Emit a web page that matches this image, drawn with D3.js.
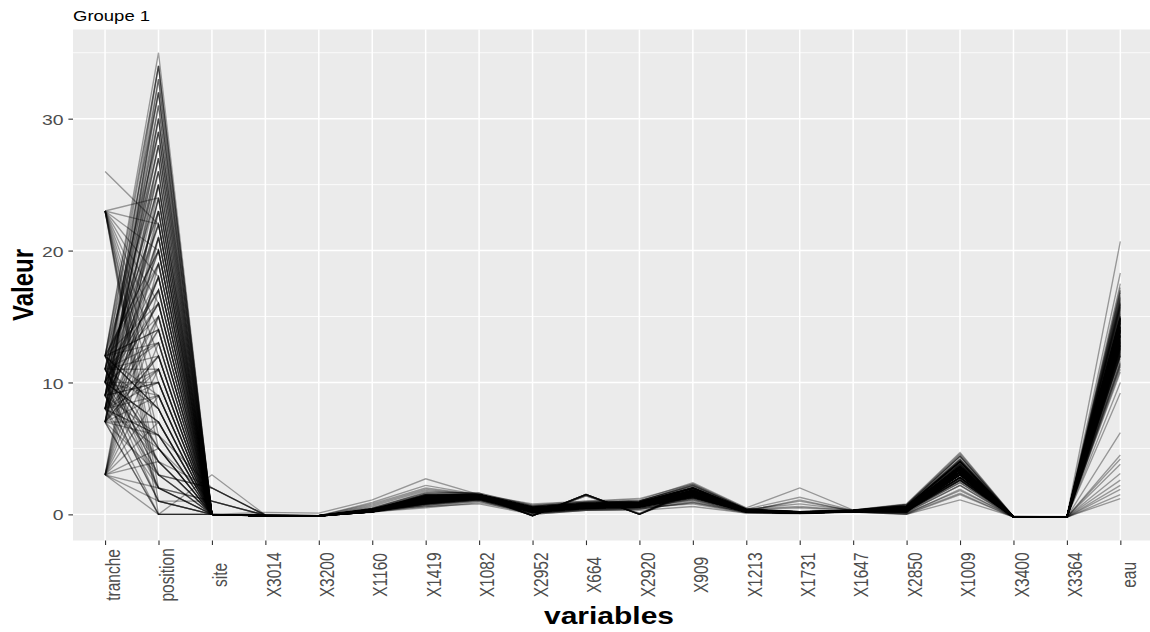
<!DOCTYPE html>
<html><head><meta charset="utf-8">
<script src="https://cdn.jsdelivr.net/npm/d3@7"></script>
<style>body{margin:0;background:#fff} svg{display:block}</style>
</head><body><svg id="chart" width="1150" height="632"></svg>
<script>
const categories = ["tranche","position","site","X3014","X3200","X1160","X1419","X1082","X2952","X664","X2920","X909","X1213","X1731","X1647","X2850","X1009","X3400","X3364","eau"];

const tranche = [
23,23,23,23,23,23,23,23,23,23,
23,23,23,23,23,3,3,3,3,3,
3,3,3,3,3,3,3,3,3,3,
26,12,11,10,9,8,7,12,11,10,
9,8,7,11,10,9,8,12,7,10,
9,8,12,11,7,9,8,12,11,10,
7,8,12,11,10,9,7,12,10,11,
9,8,7,11,9,10,12,8,7,10,
12,9,11,8,7,9,11,12,10,8,
7,12,11,10,9,8,7,10,9,8,
8,10,12,7,9,11,8,10,12,7,
9,11,8,10,12,7,9,11,8,10,
12,7,9,11,8,10,12,7,9,11,
8,10,12,7,9,11,10,8,12,9,
11,7,10,8,12,9,11,7,10,8];

const position = [
0,1,2,3,5,6,8,10,12,14,
16,18,20,22,24,0,1,2,4,5,
7,9,11,13,15,17,19,21,23,25,
22,35,34,33,32,31,30,29,28,27,
26,25,24,23,22,21,20,19,18,17,
16,15,14,13,12,11,10,9,8,7,
6,5,4,3,2,1,0,34,32,30,
28,26,24,22,20,18,16,14,12,10,
8,6,4,2,0,1,3,5,7,9,
11,13,15,17,19,21,23,25,27,29,
0,1,2,3,4,5,6,7,8,9,
10,11,12,13,14,15,16,17,18,19,
20,21,22,23,24,25,26,27,28,29,
30,31,32,33,34,2,4,6,8,10,
12,14,16,18,20,3,5,7,9,11];

const site = [
0,0,0,0,0,0,0,0,0,0,
0,0,0,0,0,3,0,0,0,0,
0,0,0,0,0,0,0,0,0,0,
0,0,0,0,0,0,0,0,0,0,
0,0,0,0,0,0,0,0,0,0,
0,0,0,0,0,0,0,0,0,0,
2,1,0,2,1,0,0,0,0,0,
0,0,0,0,0,0,0,0,0,0,
0,0,0,0,0,1,2,0,0,0,
0,0,0,0,0,0,0,0,0,0,
0,0,1,0,2,0,0,0,0,0,
0,0,0,0,0,0,0,0,0,0,
0,0,0,0,0,0,0,0,0,0,
0,0,0,0,0,0,0,0,0,0,
0,0,0,0,0,0,0,0,0,0];

const x3014 = [
-0.1,-0.12,-0.08,-0.1,-0.11,-0.09,-0.1,-0.13,-0.1,-0.08,
-0.1,-0.11,-0.12,-0.09,-0.1,-0.05,-0.1,-0.12,-0.1,-0.09,
-0.11,-0.1,-0.08,-0.1,-0.12,-0.1,-0.09,-0.11,-0.1,-0.1,
0.15,-0.1,-0.12,-0.09,-0.1,-0.11,-0.1,-0.08,-0.12,-0.1,
-0.09,-0.11,-0.1,-0.12,-0.08,-0.1,-0.13,-0.1,-0.09,-0.11,
-0.1,-0.12,-0.09,-0.1,-0.11,-0.1,-0.08,-0.1,-0.12,-0.1,
-0.05,-0.07,-0.1,-0.06,-0.08,-0.11,-0.1,-0.09,-0.12,-0.1,
-0.1,-0.11,-0.09,-0.1,-0.12,-0.08,-0.1,-0.11,-0.1,-0.13,
-0.09,-0.1,-0.12,-0.1,-0.11,-0.07,-0.06,-0.1,-0.12,-0.09,
-0.1,-0.11,-0.1,-0.08,-0.12,-0.1,-0.09,-0.11,-0.1,-0.12,
-0.11,-0.1,-0.07,-0.12,-0.06,-0.1,-0.11,-0.09,-0.1,-0.12,
-0.1,-0.09,-0.11,-0.1,-0.12,-0.1,-0.08,-0.11,-0.1,-0.09,
-0.12,-0.1,-0.11,-0.09,-0.1,-0.12,-0.1,-0.11,-0.08,-0.1,
-0.1,-0.12,-0.09,-0.11,-0.1,-0.1,-0.13,-0.1,-0.09,-0.11,
-0.1,-0.11,-0.12,-0.1,-0.09,-0.1,-0.11,-0.12,-0.1,-0.08];

const x3200 = [
-0.12,-0.1,-0.11,-0.13,-0.1,-0.12,-0.11,-0.1,-0.13,-0.12,
-0.11,-0.13,-0.1,-0.12,-0.11,-0.08,-0.12,-0.1,-0.13,-0.11,
-0.1,-0.12,-0.11,-0.13,-0.1,-0.12,-0.11,-0.1,-0.12,-0.13,
0.1,-0.12,-0.1,-0.11,-0.13,-0.12,-0.1,-0.11,-0.13,-0.12,
-0.11,-0.1,-0.12,-0.13,-0.11,-0.12,-0.1,-0.13,-0.11,-0.12,
-0.12,-0.1,-0.11,-0.13,-0.12,-0.11,-0.1,-0.12,-0.13,-0.11,
-0.1,-0.11,-0.12,-0.1,-0.12,-0.13,-0.11,-0.12,-0.1,-0.11,
-0.13,-0.12,-0.11,-0.1,-0.12,-0.11,-0.13,-0.12,-0.1,-0.11,
-0.12,-0.11,-0.13,-0.12,-0.1,-0.11,-0.1,-0.12,-0.13,-0.11,
-0.11,-0.12,-0.1,-0.13,-0.11,-0.12,-0.1,-0.12,-0.11,-0.13,
-0.12,-0.11,-0.1,-0.12,-0.11,-0.13,-0.12,-0.1,-0.11,-0.12,
-0.13,-0.11,-0.12,-0.1,-0.12,-0.11,-0.13,-0.12,-0.11,-0.1,
-0.11,-0.12,-0.13,-0.11,-0.12,-0.1,-0.11,-0.12,-0.13,-0.11,
-0.12,-0.1,-0.11,-0.12,-0.13,-0.11,-0.12,-0.1,-0.12,-0.11,
-0.11,-0.13,-0.12,-0.11,-0.1,-0.12,-0.11,-0.13,-0.12,-0.1];

const x1160 = [
0.2,0.3,0.25,0.35,0.2,0.4,0.3,0.15,0.25,0.3,
0.35,0.2,0.3,0.45,0.25,0.2,0.3,0.35,0.4,0.25,
0.3,0.2,0.25,0.3,0.5,0.35,0.2,0.3,0.25,0.4,
1.1,0.3,0.25,0.35,0.2,0.3,0.4,0.9,0.25,0.3,
0.2,0.35,0.3,0.25,0.4,0.3,0.2,0.35,0.3,0.7,
0.3,0.25,0.35,0.2,0.3,0.45,0.25,0.3,0.35,0.2,
0.3,0.4,0.25,0.3,0.2,0.35,0.3,0.25,0.8,0.3,
0.25,0.3,0.35,0.2,0.3,0.4,0.25,0.3,0.2,0.35,
0.3,0.25,0.2,0.35,0.3,0.45,0.3,0.25,0.35,0.3,
0.2,0.3,0.35,0.25,0.3,0.6,0.2,0.3,0.25,0.35,
0.25,0.3,0.2,0.35,0.3,0.25,0.4,0.3,0.2,0.3,
0.35,0.25,0.3,0.2,0.3,0.4,0.25,0.3,0.35,0.25,
0.3,0.2,0.35,0.3,0.25,0.3,0.4,0.2,0.3,0.35,
0.25,0.3,0.2,0.3,0.35,0.25,0.3,0.4,0.2,0.3,
0.3,0.35,0.25,0.2,0.3,0.4,0.3,0.25,0.35,0.3];

const x1419 = [
1.0,1.2,0.8,1.4,0.9,1.1,1.3,0.7,1.0,1.2,
1.5,0.9,1.1,1.3,0.8,1.0,1.2,1.4,0.6,1.1,
1.3,0.9,1.0,1.2,1.6,1.1,0.8,1.4,1.0,1.2,
2.7,1.1,0.9,1.3,1.0,1.2,1.5,2.2,0.8,1.1,
1.0,1.3,1.2,0.9,1.4,1.1,0.5,1.3,1.0,1.9,
1.2,0.9,1.4,1.0,1.1,1.6,0.8,1.2,1.3,1.0,
1.1,1.5,0.9,1.2,1.0,1.3,1.1,0.8,2.0,1.2,
0.9,1.2,1.4,1.0,1.1,1.5,0.8,1.3,1.0,1.2,
1.1,1.0,0.6,1.3,1.2,1.7,1.1,0.9,1.4,1.0,
0.8,1.2,1.3,1.0,1.1,1.8,0.7,1.2,0.9,1.3,
1.1,1.3,0.9,1.2,1.0,1.4,1.2,0.8,1.1,1.3,
1.0,1.2,1.5,0.9,1.1,1.3,1.0,1.2,1.4,0.7,
1.2,1.0,1.3,1.1,0.9,1.4,1.2,1.0,1.1,1.3,
0.9,1.1,1.2,1.4,1.0,1.3,1.1,0.8,1.2,1.0,
1.3,1.1,0.9,1.2,1.4,1.0,1.2,1.1,0.9,1.5];

const x1082 = [
1.3,1.4,1.2,1.5,1.3,1.4,1.5,1.1,1.3,1.4,
1.5,1.3,1.4,1.4,1.2,1.3,1.4,1.5,1.0,1.3,
1.4,1.2,1.3,1.4,1.6,1.3,1.2,1.5,1.3,1.4,
1.5,1.3,1.2,1.4,1.3,1.4,1.5,1.5,1.1,1.3,
1.3,1.4,1.4,1.2,1.5,1.3,0.9,1.4,1.3,1.5,
1.4,1.2,1.5,1.3,1.3,1.6,1.1,1.4,1.4,1.3,
1.3,1.5,1.2,1.4,1.3,1.4,1.3,1.4,1.5,1.4,
1.2,1.4,1.5,1.3,1.3,1.5,1.1,1.4,1.3,1.4,
1.3,1.3,0.8,1.4,1.4,1.6,1.3,1.2,1.5,1.3,
1.1,1.4,1.4,1.3,1.3,1.5,1.0,1.4,1.2,1.4,
1.3,1.4,1.2,1.4,1.3,1.5,1.4,1.2,1.3,1.4,
1.3,1.4,1.5,1.2,1.3,1.4,1.3,1.4,1.5,1.1,
1.4,1.3,1.4,1.3,1.2,1.5,1.4,1.3,1.3,1.4,
1.2,1.3,1.4,1.5,1.3,1.4,1.3,1.2,1.4,1.3,
1.4,1.3,1.2,1.4,1.5,1.3,1.4,1.3,1.2,1.5];

const x2952 = [
0.3,0.4,0.2,0.5,0.3,0.4,0.6,0.2,0.3,0.4,
0.5,0.3,-0.1,0.4,0.2,0.3,0.4,0.5,0.1,0.3,
0.4,0.2,0.3,0.4,0.7,0.3,0.2,0.5,0.3,0.4,
0.8,0.3,0.2,0.4,0.3,0.4,0.5,0.6,0.1,0.3,
0.3,-0.1,0.4,0.2,0.5,0.3,0.1,0.4,0.3,0.6,
0.4,0.2,0.5,0.3,0.3,-0.1,0.2,0.4,0.4,0.3,
0.3,0.5,0.2,0.4,0.3,0.4,0.3,-0.1,0.7,0.4,
0.2,0.4,0.5,0.3,0.3,0.5,0.1,0.4,-0.1,0.4,
0.3,0.3,0.0,0.4,0.4,0.6,0.3,0.2,0.5,0.3,
0.1,0.4,-0.1,0.3,0.3,0.6,0.0,0.4,0.2,0.4,
0.3,0.4,0.2,0.3,0.3,-0.1,0.4,0.2,0.3,0.4,
0.3,0.4,0.5,0.2,0.3,0.4,0.3,0.3,0.5,0.1,
0.4,0.3,0.4,0.3,0.2,0.5,0.4,-0.1,0.3,0.4,
0.2,0.3,0.4,0.5,0.3,0.4,0.3,0.2,0.4,0.3,
0.4,-0.1,0.2,0.3,0.5,0.3,0.4,0.3,0.2,0.5];

const x664 = [
0.6,0.7,0.5,0.8,0.6,0.7,0.9,0.4,0.6,0.7,
0.8,0.6,1.5,0.7,0.5,0.6,0.7,0.8,0.3,0.6,
0.7,0.5,0.6,0.7,1.0,0.6,0.5,0.8,0.6,0.7,
1.0,0.6,0.5,0.7,0.6,0.7,0.8,0.9,0.4,0.6,
0.6,1.5,0.7,0.5,0.8,0.6,0.4,0.7,0.6,0.9,
0.7,0.5,0.8,0.6,0.6,1.5,0.5,0.7,0.7,0.6,
0.6,0.8,0.5,0.7,0.6,0.7,0.6,1.4,0.9,0.7,
0.5,0.7,0.8,0.6,0.6,0.8,0.4,0.7,1.5,0.7,
0.6,0.6,0.3,0.7,0.7,0.9,0.6,0.5,0.8,0.6,
0.4,0.7,1.5,0.6,0.6,0.9,0.3,0.7,0.5,0.7,
0.6,0.7,0.5,0.6,0.6,1.5,0.7,0.5,0.6,0.7,
0.6,0.7,0.8,0.5,0.6,0.7,0.6,0.6,0.8,0.4,
0.7,0.6,0.7,0.6,0.5,0.8,0.7,1.4,0.6,0.7,
0.5,0.6,0.7,0.8,0.6,0.7,0.6,0.5,0.7,0.6,
0.7,1.5,0.5,0.6,0.8,0.6,0.7,0.6,0.5,0.8];

const x2920 = [
0.7,0.8,0.6,0.9,0.7,0.8,1.0,0.5,0.7,0.8,
0.9,0.7,0.0,0.8,0.6,0.7,0.8,0.9,0.4,0.7,
0.8,0.6,0.7,0.8,1.2,0.7,0.6,0.9,0.7,0.8,
1.1,0.7,0.6,0.8,0.7,0.8,0.9,1.0,0.4,0.7,
0.7,0.0,0.8,0.6,0.9,0.7,0.5,0.8,0.7,1.0,
0.8,0.6,0.9,0.7,0.7,0.0,0.6,0.8,0.8,0.7,
0.7,0.9,0.6,0.8,0.7,0.8,0.7,0.1,1.0,0.8,
0.6,0.8,0.9,0.7,0.7,0.9,0.5,0.8,0.0,0.8,
0.7,0.7,0.3,0.8,0.8,1.0,0.7,0.6,0.9,0.7,
0.5,0.8,0.0,0.7,0.7,1.0,0.4,0.8,0.6,0.8,
0.7,0.8,0.6,0.7,0.7,0.0,0.8,0.6,0.7,0.8,
0.7,0.8,0.9,0.6,0.7,0.8,0.7,0.7,0.9,0.5,
0.8,0.7,0.8,0.7,0.6,0.9,0.8,0.05,0.7,0.8,
0.6,0.7,0.8,0.9,0.7,0.8,0.7,0.6,0.8,0.7,
0.8,0.0,0.6,0.7,0.9,0.7,0.8,0.7,0.6,0.9];

const x909 = [
1.6,1.8,1.4,2.0,1.5,1.7,2.1,1.2,1.6,1.8,
2.0,1.5,1.7,1.8,1.3,1.6,1.8,2.0,0.9,1.5,
1.8,1.4,1.5,1.8,2.3,1.6,1.3,1.9,1.5,1.7,
2.4,1.6,1.4,1.8,1.5,1.7,1.9,2.2,1.0,1.5,
1.5,1.8,1.8,1.4,2.0,1.6,0.8,1.8,1.5,2.2,
1.7,1.3,2.0,1.5,1.6,1.9,1.2,1.7,1.8,1.5,
1.6,2.0,1.3,1.8,1.5,1.8,1.6,1.7,2.3,1.7,
1.4,1.7,2.0,1.5,1.6,2.0,1.1,1.8,1.9,1.7,
1.5,1.6,0.6,1.8,1.7,2.2,1.5,1.3,2.0,1.5,
1.2,1.7,1.8,1.5,1.6,2.1,0.9,1.7,1.3,1.8,
1.6,1.8,1.4,1.7,1.6,1.5,1.8,1.3,1.6,1.8,
1.5,1.7,2.0,1.4,1.6,1.8,1.5,1.7,1.9,1.1,
1.7,1.5,1.8,1.6,1.4,1.9,1.7,1.6,1.6,1.8,
1.4,1.6,1.7,2.0,1.5,1.8,1.6,1.3,1.7,1.5,
1.8,1.7,1.4,1.6,1.9,1.5,1.7,1.6,1.4,2.0];

const x1213 = [
0.3,0.3,0.2,0.35,0.25,0.3,0.4,0.2,0.25,0.3,
0.35,0.25,0.3,0.3,0.2,0.25,0.3,0.35,0.15,0.25,
0.3,0.2,0.25,0.3,0.45,0.25,0.2,0.35,0.25,0.3,
0.5,0.25,0.2,0.3,0.25,0.3,0.35,0.4,0.15,0.25,
0.25,0.3,0.3,0.2,0.35,0.25,0.1,0.3,0.25,0.4,
0.3,0.2,0.35,0.25,0.25,0.35,0.2,0.3,0.3,0.25,
0.25,0.35,0.2,0.3,0.25,0.3,0.25,0.3,0.4,0.3,
0.2,0.3,0.35,0.25,0.25,0.35,0.15,0.3,0.3,0.3,
0.25,0.25,0.1,0.3,0.3,0.4,0.25,0.2,0.35,0.25,
0.2,0.3,0.3,0.25,0.25,0.4,0.15,0.3,0.2,0.3,
0.25,0.3,0.2,0.3,0.25,0.3,0.3,0.2,0.25,0.3,
0.25,0.3,0.35,0.2,0.25,0.3,0.25,0.3,0.35,0.15,
0.3,0.25,0.3,0.25,0.2,0.35,0.3,0.25,0.25,0.3,
0.2,0.25,0.3,0.35,0.25,0.3,0.25,0.2,0.3,0.25,
0.3,0.25,0.2,0.25,0.35,0.25,0.3,0.25,0.2,0.35];

const x1731 = [
0.15,0.2,0.1,0.15,0.12,0.18,0.2,0.1,0.15,0.15,
0.2,0.12,0.15,0.15,0.1,0.15,0.12,0.18,0.1,1.1,
0.15,0.1,0.12,0.15,0.2,0.12,0.1,0.15,0.12,0.15,
2.0,0.12,0.1,0.15,0.12,0.15,0.18,1.3,0.08,0.12,
0.12,0.15,0.15,0.1,0.5,0.12,0.08,0.15,0.12,0.2,
0.15,0.1,0.18,0.12,0.12,0.15,0.1,1.0,0.15,0.12,
0.12,0.18,0.1,0.15,0.12,0.15,0.12,0.15,0.8,0.15,
0.1,0.15,0.18,0.12,0.12,0.18,0.08,0.15,0.15,0.15,
0.12,0.12,0.05,0.15,0.15,0.2,0.12,0.1,0.18,0.12,
0.1,0.15,0.15,0.12,0.12,0.6,0.08,0.15,0.1,0.15,
0.12,0.15,0.1,0.15,0.12,0.15,0.18,0.1,0.12,0.15,
0.12,0.15,0.18,0.1,0.12,0.15,0.12,0.15,0.18,0.08,
0.15,0.12,0.15,0.12,0.1,0.18,0.15,0.12,0.12,0.15,
0.1,0.12,0.15,0.18,0.12,0.15,0.12,0.1,0.15,0.12,
0.15,0.12,0.1,0.12,0.18,0.12,0.15,0.12,0.1,0.18];

const x1647 = [
0.25,0.28,0.22,0.3,0.24,0.26,0.3,0.2,0.25,0.27,
0.3,0.24,0.26,0.27,0.22,0.25,0.27,0.29,0.19,0.24,
0.27,0.22,0.24,0.27,0.32,0.25,0.21,0.28,0.24,0.26,
0.33,0.25,0.22,0.27,0.24,0.26,0.28,0.31,0.2,0.24,
0.24,0.27,0.27,0.22,0.29,0.25,0.18,0.27,0.24,0.31,
0.26,0.21,0.29,0.24,0.25,0.28,0.2,0.26,0.27,0.24,
0.25,0.29,0.21,0.27,0.24,0.27,0.25,0.26,0.32,0.26,
0.22,0.26,0.29,0.24,0.25,0.29,0.2,0.27,0.28,0.26,
0.24,0.25,0.17,0.27,0.26,0.31,0.24,0.22,0.29,0.24,
0.21,0.26,0.27,0.24,0.25,0.3,0.19,0.26,0.22,0.27,
0.25,0.27,0.22,0.26,0.25,0.24,0.27,0.21,0.25,0.27,
0.24,0.26,0.29,0.22,0.25,0.27,0.24,0.26,0.28,0.2,
0.26,0.24,0.27,0.25,0.22,0.28,0.26,0.25,0.25,0.27,
0.22,0.25,0.26,0.29,0.24,0.27,0.25,0.21,0.26,0.24,
0.27,0.25,0.22,0.25,0.28,0.24,0.26,0.25,0.22,0.29];

const x2850 = [
0.4,0.5,0.3,0.6,0.35,0.45,0.65,0.25,0.4,0.5,
0.6,0.35,0.2,0.5,0.3,0.4,0.5,0.6,0.1,0.35,
0.5,0.3,0.35,0.5,0.75,0.4,0.25,0.55,0.35,0.45,
0.8,0.4,0.3,0.5,0.35,0.45,0.55,0.7,0.05,0.35,
0.35,0.15,0.5,0.3,0.6,0.4,0.0,0.5,0.35,0.7,
0.45,0.25,0.6,0.35,0.4,0.2,0.25,0.45,0.5,0.35,
0.4,0.6,0.25,0.5,0.35,0.5,0.4,0.2,0.75,0.45,
0.3,0.45,0.6,0.35,0.4,0.6,0.15,0.5,0.15,0.45,
0.35,0.4,0.0,0.5,0.45,0.7,0.35,0.3,0.6,0.35,
0.2,0.45,0.1,0.35,0.4,0.65,0.05,0.45,0.25,0.5,
0.4,0.5,0.3,0.45,0.4,0.2,0.5,0.3,0.4,0.5,
0.35,0.45,0.6,0.3,0.4,0.5,0.35,0.45,0.55,0.15,
0.45,0.35,0.5,0.4,0.3,0.55,0.45,0.2,0.4,0.5,
0.3,0.4,0.45,0.6,0.35,0.5,0.4,0.25,0.45,0.35,
0.5,0.15,0.3,0.4,0.55,0.35,0.45,0.4,0.3,0.6];

const x1009 = [
3.2,3.6,2.8,4.0,3.0,3.4,4.2,2.5,3.2,3.6,
4.0,3.0,3.5,3.7,2.7,3.2,3.6,4.1,1.8,3.0,
3.6,2.8,3.1,3.6,4.6,3.2,2.6,3.8,3.0,3.4,
4.7,3.2,2.8,3.7,3.0,3.4,3.9,4.4,1.9,3.1,
3.0,3.6,3.6,2.8,4.0,3.3,1.5,3.7,3.0,4.4,
3.4,2.6,4.0,3.0,3.2,3.8,2.4,3.5,3.6,3.0,
3.2,4.0,2.6,3.6,3.0,3.6,3.2,3.4,4.5,3.4,
2.8,3.4,4.0,3.0,3.2,4.1,2.2,3.6,3.8,3.4,
3.0,3.2,1.1,3.6,3.4,4.4,3.0,2.7,4.0,3.0,
2.4,3.4,3.6,3.0,3.2,4.2,1.6,3.4,2.6,3.6,
3.2,3.6,2.8,3.4,3.2,3.5,3.7,2.6,3.2,3.6,
3.0,3.4,4.0,2.8,3.2,3.6,3.0,3.4,3.8,2.2,
3.4,3.0,3.6,3.2,2.8,3.9,3.4,3.3,3.2,3.6,
2.8,3.2,3.4,4.1,3.0,3.6,3.2,2.6,3.4,3.0,
3.6,3.5,2.8,3.2,3.8,3.0,3.4,3.2,2.8,4.0];

const x3400 = [
-0.18,-0.2,-0.17,-0.2,-0.19,-0.18,-0.21,-0.16,-0.18,-0.2,
-0.19,-0.17,-0.2,-0.18,-0.21,-0.19,-0.18,-0.2,-0.17,-0.19,
-0.2,-0.18,-0.19,-0.21,-0.17,-0.2,-0.18,-0.19,-0.2,-0.18,
-0.15,-0.19,-0.2,-0.18,-0.21,-0.17,-0.19,-0.18,-0.2,-0.19,
-0.18,-0.2,-0.19,-0.17,-0.2,-0.18,-0.21,-0.19,-0.18,-0.2,
-0.19,-0.18,-0.2,-0.21,-0.17,-0.19,-0.2,-0.18,-0.19,-0.2,
-0.17,-0.19,-0.2,-0.18,-0.19,-0.21,-0.18,-0.2,-0.17,-0.19,
-0.2,-0.18,-0.19,-0.2,-0.18,-0.17,-0.21,-0.19,-0.2,-0.18,
-0.19,-0.2,-0.18,-0.19,-0.21,-0.18,-0.2,-0.19,-0.17,-0.2,
-0.18,-0.19,-0.2,-0.18,-0.19,-0.2,-0.21,-0.18,-0.19,-0.2,
-0.19,-0.18,-0.2,-0.19,-0.17,-0.2,-0.18,-0.19,-0.21,-0.18,
-0.2,-0.19,-0.18,-0.2,-0.19,-0.17,-0.2,-0.18,-0.19,-0.2,
-0.18,-0.2,-0.19,-0.18,-0.21,-0.19,-0.18,-0.2,-0.19,-0.18,
-0.19,-0.18,-0.2,-0.19,-0.18,-0.2,-0.19,-0.17,-0.2,-0.19,
-0.2,-0.19,-0.18,-0.2,-0.19,-0.18,-0.21,-0.19,-0.18,-0.2];

const x3364 = [
-0.2,-0.19,-0.21,-0.18,-0.2,-0.22,-0.19,-0.2,-0.21,-0.18,
-0.2,-0.21,-0.19,-0.2,-0.18,-0.2,-0.22,-0.19,-0.2,-0.21,
-0.19,-0.2,-0.21,-0.18,-0.2,-0.19,-0.22,-0.2,-0.19,-0.21,
-0.17,-0.2,-0.19,-0.21,-0.2,-0.18,-0.2,-0.22,-0.19,-0.2,
-0.21,-0.19,-0.2,-0.18,-0.22,-0.2,-0.19,-0.21,-0.2,-0.18,
-0.2,-0.21,-0.19,-0.2,-0.22,-0.18,-0.2,-0.19,-0.21,-0.2,
-0.19,-0.2,-0.18,-0.21,-0.2,-0.19,-0.22,-0.2,-0.18,-0.21,
-0.2,-0.19,-0.21,-0.2,-0.18,-0.2,-0.22,-0.19,-0.2,-0.21,
-0.19,-0.2,-0.21,-0.18,-0.2,-0.19,-0.2,-0.22,-0.21,-0.19,
-0.2,-0.21,-0.19,-0.2,-0.18,-0.2,-0.21,-0.19,-0.2,-0.22,
-0.2,-0.21,-0.19,-0.2,-0.22,-0.19,-0.2,-0.21,-0.18,-0.2,
-0.19,-0.2,-0.21,-0.19,-0.2,-0.18,-0.21,-0.2,-0.19,-0.22,
-0.21,-0.19,-0.2,-0.22,-0.19,-0.2,-0.21,-0.18,-0.2,-0.19,
-0.2,-0.22,-0.19,-0.2,-0.21,-0.19,-0.2,-0.18,-0.21,-0.2,
-0.19,-0.2,-0.22,-0.19,-0.2,-0.21,-0.19,-0.2,-0.18,-0.21];

const eau = [
13.5,14.8,12.2,15.6,13.0,1.5,16.2,11.8,13.8,14.5,
15.2,12.8,14.0,3.1,12.5,13.2,14.6,15.8,11.0,12.9,
14.4,12.0,13.1,14.9,17.5,13.6,2.2,15.0,12.7,14.1,
20.7,13.3,12.1,4.5,12.9,14.2,15.3,16.8,9.2,13.0,
12.6,14.7,15.0,12.3,1.9,13.5,11.4,14.9,12.8,18.3,
14.0,6.2,15.7,12.6,13.4,16.0,11.6,14.3,14.8,2.6,
13.2,15.9,12.0,14.6,4.2,14.9,13.3,13.8,17.0,14.0,
12.4,14.1,16.4,3.8,13.1,16.6,11.2,14.5,15.4,13.9,
12.9,13.6,10.0,14.8,14.2,17.2,1.2,12.3,16.1,12.8,
11.5,14.0,14.7,12.8,13.5,16.9,10.8,14.2,12.0,15.0,
13.8,14.5,12.6,14.0,13.5,15.1,14.7,12.2,13.9,14.6,
13.1,14.3,16.0,12.5,13.7,14.8,13.2,14.1,15.5,11.3,
14.2,13.4,14.9,13.6,12.4,15.7,14.4,13.9,13.5,14.8,
12.7,13.6,14.3,16.3,13.0,14.9,13.8,12.1,14.2,13.3,
14.7,14.0,12.8,13.7,15.9,13.1,14.5,13.9,12.6,16.5];

const yTicks = [0, 10, 20, 30];
const yMinorTicks = [5, 15, 25, 35];
const plotTitle = "Groupe 1";
const xAxisTitle = "variables";
const yAxisTitle = "Valeur";

const columns = [tranche, position, site, x3014, x3200, x1160, x1419, x1082, x2952, x664,
  x2920, x909, x1213, x1731, x1647, x2850, x1009, x3400, x3364, eau];
const rows = d3.range(tranche.length).map(i => categories.map((c, j) => ({key: c, value: columns[j][i]})));

const FONT = "'Liberation Sans', Arial, Helvetica, sans-serif";
const SX = 1.25;
const panel = {left: 73, right: 1152.4, top: 29.5, bottom: 540.5};

const svg = d3.select("#chart");
svg.append("rect").attr("width", 1150).attr("height", 632).attr("fill", "#ffffff");

const allVals = columns.flat();
const [mn, mx] = d3.extent(allVals);
const pad = (mx - mn) * 0.05;
const y = d3.scaleLinear().domain([mn - pad, mx + pad]).range([panel.bottom, panel.top]);
const x = d3.scalePoint().domain(categories).range([panel.left, panel.right]).padding(0.6);

svg.append("rect").attr("x", panel.left).attr("y", panel.top)
  .attr("width", panel.right - panel.left).attr("height", panel.bottom - panel.top)
  .attr("fill", "#EBEBEB");

const grid = svg.append("g");
grid.selectAll("line.minor").data(yMinorTicks).join("line")
  .attr("x1", panel.left).attr("x2", panel.right)
  .attr("y1", d => y(d)).attr("y2", d => y(d))
  .attr("stroke", "#ffffff").attr("stroke-width", 0.8);
grid.selectAll("line.major").data(yTicks).join("line")
  .attr("x1", panel.left).attr("x2", panel.right)
  .attr("y1", d => y(d)).attr("y2", d => y(d))
  .attr("stroke", "#ffffff").attr("stroke-width", 1.4);
grid.selectAll("line.vert").data(categories).join("line")
  .attr("x1", d => x(d)).attr("x2", d => x(d))
  .attr("y1", panel.top).attr("y2", panel.bottom)
  .attr("stroke", "#ffffff").attr("stroke-width", 1.5);

const line = d3.line().x(d => x(d.key)).y(d => y(d.value));
svg.append("g").selectAll("path").data(rows).join("path")
  .attr("d", line).attr("fill", "none")
  .attr("stroke", "#000").attr("stroke-opacity", 0.36).attr("stroke-width", 1.35);

// Y axis
const gy = svg.append("g").attr("transform", `translate(${panel.left},0)`)
  .call(d3.axisLeft(y).tickValues(yTicks).tickSize(4.6));
gy.select(".domain").remove();
gy.selectAll(".tick line").attr("stroke", "#333333").attr("stroke-width", 1.1);
gy.selectAll(".tick text")
  .attr("x", 0).attr("dy", "0.36em")
  .attr("transform", `translate(-9.5,0) scale(${SX},1)`)
  .attr("text-anchor", "end")
  .attr("fill", "#4D4D4D").style("font-family", FONT).style("font-size", "15.5px");

// X axis
const gx = svg.append("g").attr("transform", `translate(0,${panel.bottom})`)
  .call(d3.axisBottom(x).tickSize(4.6));
gx.select(".domain").remove();
gx.selectAll(".tick line").attr("stroke", "#333333").attr("stroke-width", 1.1);
gx.selectAll(".tick text")
  .attr("x", 0).attr("y", 0).attr("dy", "0.76em")
  .attr("transform", `translate(0,34.4) scale(${SX},1) rotate(-90)`)
  .attr("text-anchor", "middle")
  .attr("fill", "#4D4D4D").style("font-family", FONT).style("font-size", "15.5px");

// Titles
svg.append("text").text(plotTitle)
  .attr("transform", `translate(${panel.left},20.5) scale(${SX},1)`)
  .attr("fill", "#000").style("font-family", FONT).style("font-size", "14.8px");

svg.append("text").text(xAxisTitle)
  .attr("transform", `translate(609,624) scale(${SX},1)`)
  .attr("text-anchor", "middle").attr("fill", "#000")
  .style("font-family", FONT).style("font-size", "24px").style("font-weight", "bold");

svg.append("text").text(yAxisTitle)
  .attr("transform", `translate(33,${(panel.top + panel.bottom) / 2}) scale(${SX},1) rotate(-90)`)
  .attr("text-anchor", "middle").attr("fill", "#000")
  .style("font-family", FONT).style("font-size", "24px").style("font-weight", "bold");
</script></body></html>
